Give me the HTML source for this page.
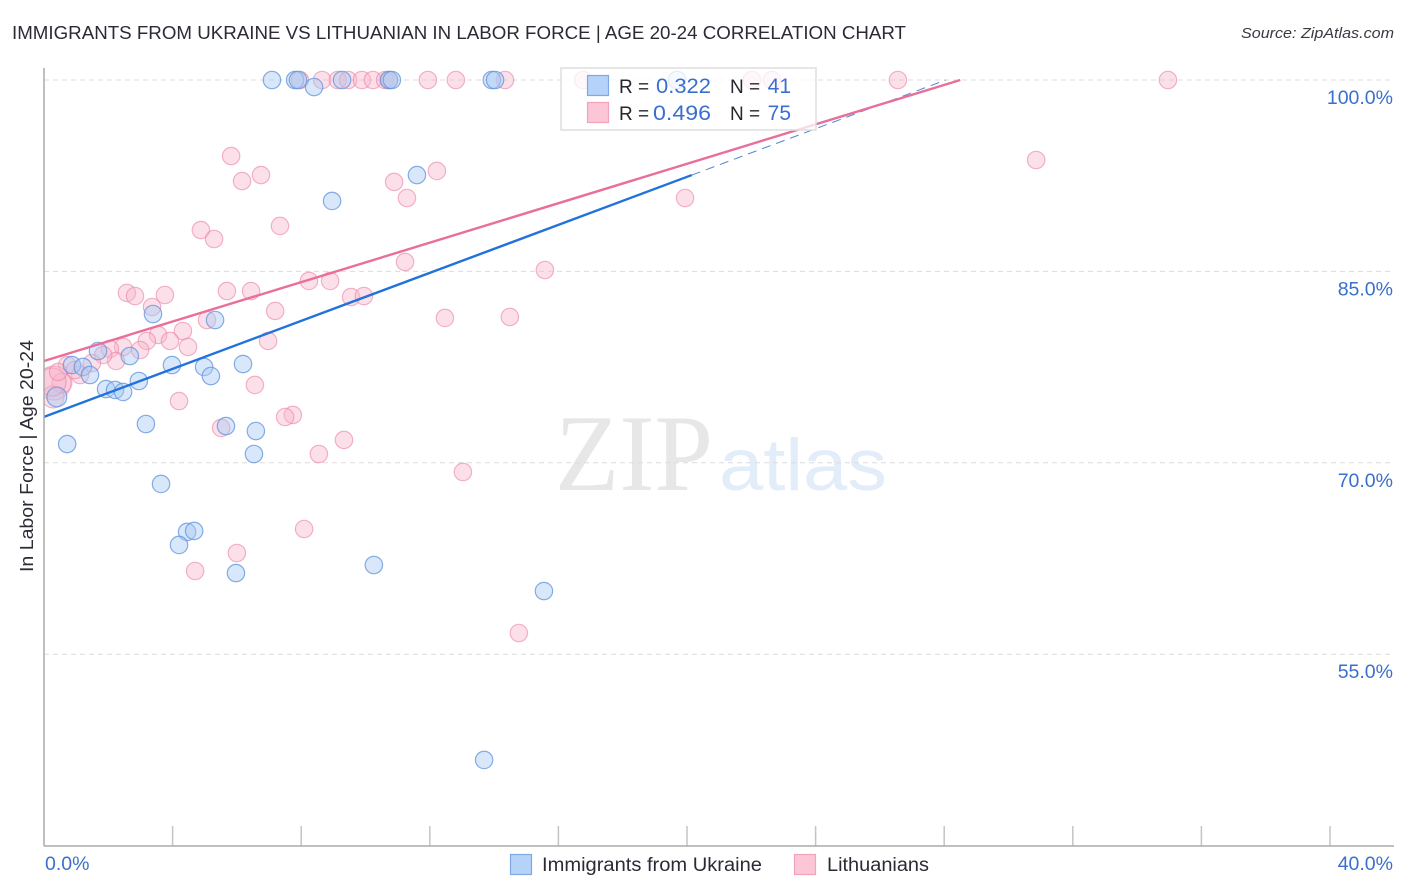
<!DOCTYPE html>
<html lang="en">
<head>
<meta charset="utf-8">
<title>Immigrants from Ukraine vs Lithuanian in Labor Force | Age 20-24 Correlation Chart</title>
<style>
html,body{margin:0;padding:0;background:#fff;width:1406px;height:892px;overflow:hidden}
svg{display:block;font-family:"Liberation Sans",sans-serif}
</style>
</head>
<body>
<svg id="chart" width="1406" height="892" viewBox="0 0 1406 892" xmlns="http://www.w3.org/2000/svg">
  <defs>
    <clipPath id="plot-clip"><rect x="44" y="60" width="1350" height="786"/></clipPath>
  </defs>
  <text x="12" y="39" font-size="18.5" fill="#2b2b36" textLength="894" lengthAdjust="spacingAndGlyphs">IMMIGRANTS FROM UKRAINE VS LITHUANIAN IN LABOR FORCE | AGE 20-24 CORRELATION CHART</text>
  <text x="1394" y="38" font-size="15" font-style="italic" fill="#3a3a44" text-anchor="end" textLength="153" lengthAdjust="spacingAndGlyphs">Source: ZipAtlas.com</text>
  <g>
    <text x="555" y="490" font-family="'Liberation Serif',serif" font-size="109" fill="#e7e7e7" textLength="158" lengthAdjust="spacingAndGlyphs">ZIP</text>
    <text x="719" y="490" font-size="73" fill="#e3ecf9" textLength="168" lengthAdjust="spacingAndGlyphs">atlas</text>
  </g>
  <g id="grid"></g>
  <g id="xticks"></g>
  <g id="ylabels"></g>
  <g id="xlabels"></g>
  <g id="points-lithuanian" clip-path="url(#plot-clip)"></g>
  <g id="points-ukraine" clip-path="url(#plot-clip)"></g>
  <g id="trends"></g>
  <line x1="44" y1="68" x2="44" y2="846" stroke="#aaaaaa" stroke-width="1.5"/>
  <line x1="44" y1="846" x2="1394" y2="846" stroke="#aaaaaa" stroke-width="1.5"/>
  <text transform="translate(33,456) rotate(-90)" font-size="18.5" fill="#2b2b36" text-anchor="middle" textLength="232" lengthAdjust="spacingAndGlyphs">In Labor Force | Age 20-24</text>

  <g>
    <rect x="561" y="68" width="255" height="62" fill="#ffffff" fill-opacity="0.76" stroke="#dddddd" stroke-width="1.5"/>
    <rect x="587.5" y="75.5" width="21" height="20" fill="#b5d2f8" stroke="#7fa9e4" stroke-width="1.2"/>
    <rect x="587.5" y="102.5" width="21" height="20" fill="#fcc6d6" stroke="#f0a3bb" stroke-width="1.2"/>
    <text x="619" y="93" font-size="19" fill="#26262e">R =</text>
    <text x="711" y="93" font-size="21" fill="#3b6fce" text-anchor="end" textLength="55" lengthAdjust="spacingAndGlyphs">0.322</text>
    <text x="730" y="93" font-size="19" fill="#26262e">N =</text>
    <text x="791" y="93" font-size="21" fill="#3b6fce" text-anchor="end">41</text>
    <text x="619" y="120" font-size="19" fill="#26262e">R =</text>
    <text x="711" y="120" font-size="21" fill="#3b6fce" text-anchor="end" textLength="58" lengthAdjust="spacingAndGlyphs">0.496</text>
    <text x="730" y="120" font-size="19" fill="#26262e">N =</text>
    <text x="791" y="120" font-size="21" fill="#3b6fce" text-anchor="end">75</text>
  </g>

  <g>
    <rect x="510.5" y="854.5" width="21" height="20" fill="#b5d2f8" stroke="#7fa9e4" stroke-width="1.2"/>
    <text x="542" y="871" font-size="19" fill="#2b2b36" textLength="220" lengthAdjust="spacingAndGlyphs">Immigrants from Ukraine</text>
    <rect x="794.5" y="854.5" width="21" height="20" fill="#fcc6d6" stroke="#f0a3bb" stroke-width="1.2"/>
    <text x="827" y="871" font-size="19" fill="#2b2b36" textLength="102" lengthAdjust="spacingAndGlyphs">Lithuanians</text>
  </g>
</svg>
<script>
const yTickValues = [100, 85, 70, 55];
const yTickLabels = ["100.0%", "85.0%", "70.0%", "55.0%"];
const xTickValues = [0, 4, 8, 12, 16, 20, 24, 28, 32, 36, 40];
const xEndLabels = ["0.0%", "40.0%"];

const ukraineX = [7.09,7.81,7.90,8.40,9.27,10.73,10.82,13.93,14.03,19.69,8.96,11.60,3.39,5.32,1.68,2.67,0.87,1.21,1.43,3.98,4.98,5.19,6.19,2.95,1.93,2.21,2.46,0.40,3.17,5.66,6.59,0.72,6.53,3.64,4.45,4.67,4.20,5.97,10.26,15.55,13.69];
const ukraineY = [100,100,100,99.45,100,100,100,100,100,100,90.52,92.55,81.66,81.19,78.76,78.37,77.66,77.51,76.88,77.66,77.51,76.80,77.74,76.41,75.78,75.71,75.55,75.16,73.04,72.88,72.49,71.47,70.69,68.34,64.58,64.66,63.56,61.36,61.99,59.95,46.71];
const ukraineWeight = {27: 1.3};

const lithuanianX = [7.96,8.65,9.14,9.46,9.89,10.23,10.61,10.73,11.94,12.81,14.34,16.77,22.02,22.64,26.56,34.96,5.82,6.16,6.75,10.89,11.29,12.22,4.88,5.29,7.34,11.23,8.24,8.90,5.69,6.44,9.55,9.95,7.19,12.47,5.07,4.32,2.58,2.83,3.76,3.36,6.97,3.55,3.20,3.92,4.48,2.99,2.46,2.05,2.24,1.84,1.49,1.12,0.72,0.31,0.56,0.28,4.20,6.56,7.74,7.50,5.51,9.33,8.55,13.03,8.09,6.00,4.70,14.77,19.94,30.86,15.58,14.49,0.96,0.25,0.44];
const lithuanianY = [100,100,100,100,100,100,100,100,100,100,100,100,100,100,100,100,94.04,92.08,92.55,92.01,90.75,92.87,88.24,87.54,88.56,85.74,84.25,84.25,83.46,83.46,82.99,83.07,81.90,81.35,81.19,80.33,83.31,83.07,83.15,82.21,79.55,80.02,79.55,79.55,79.08,78.84,79.08,78.92,77.98,78.45,77.82,76.88,77.66,76.25,76.25,75.16,74.84,76.10,73.75,73.59,72.73,71.79,70.69,69.28,64.81,62.93,61.52,56.66,90.75,93.73,85.11,81.43,77.27,76.33,77.12];
const lithuanianWeight = {53: 3.8, 54: 1.3, 55: 1.6, 73: 2.6};

const ukraineTrendSolidX = [0, 20.15];
const ukraineTrendSolidY = [73.6, 92.55];
const ukraineTrendDashX = [20.15, 28.05];
const ukraineTrendDashY = [92.55, 100];
const lithuanianTrendX = [0, 28.5];
const lithuanianTrendY = [77.98, 100];

const NS = "http://www.w3.org/2000/svg";
const xPos = v => 44 + v * 32.15;
const yPos = v => 80 + (100 - v) * 12.76;
const BASE_R = 8.7;

function make(tag, parentId, attrs) {
  const el = document.createElementNS(NS, tag);
  for (const k in attrs) el.setAttribute(k, attrs[k]);
  document.getElementById(parentId).appendChild(el);
  return el;
}

yTickValues.forEach(function (v, i) {
  const gridLine = make("line", "grid", {x1: 44, x2: 1394, y1: yPos(v), y2: yPos(v), stroke: "#dcdcdc", "stroke-width": 1, "stroke-dasharray": "5 4"});
  
  
  const label = make("text", "ylabels", {x: 1393, y: yPos(v) + 24, "font-size": 19.5, fill: "#3b6fce", "text-anchor": "end"});
  
  
  label.textContent = yTickLabels[i];
});

xTickValues.slice(1).forEach(function (v) {
  const tick = make("line", "xticks", {x1: xPos(v), x2: xPos(v), y1: 826, y2: 846, stroke: "#c4c4c4", "stroke-width": 1.5});
  
  
});

const xLabelLeft = make("text", "xlabels", {x: 45, y: 870, "font-size": 19.5, fill: "#3b6fce"});


xLabelLeft.textContent = xEndLabels[0];
const xLabelRight = make("text", "xlabels", {x: 1393, y: 870, "font-size": 19.5, fill: "#3b6fce", "text-anchor": "end"});


xLabelRight.textContent = xEndLabels[1];

ukraineX.forEach(function (v, i) {
  const w = ukraineWeight[i] || 1;
  const dot = make("circle", "points-ukraine", {cx: xPos(v), cy: yPos(ukraineY[i]), r: BASE_R * Math.sqrt(w), fill: "#a9caf5", "fill-opacity": 0.45, stroke: "#5f93dc", "stroke-opacity": 0.75, "stroke-width": 1.2});
  
  
});

lithuanianX.forEach(function (v, i) {
  const w = lithuanianWeight[i] || 1;
  const dot = make("circle", "points-lithuanian", {cx: xPos(v), cy: yPos(lithuanianY[i]), r: BASE_R * Math.sqrt(w), fill: "#f7b4ca", "fill-opacity": 0.42, stroke: "#ec86a8", "stroke-opacity": 0.62, "stroke-width": 1.2});
  
  
});

const ukraineSolid = make("line", "trends", {x1: xPos(ukraineTrendSolidX[0]), y1: yPos(ukraineTrendSolidY[0]), x2: xPos(ukraineTrendSolidX[1]), y2: yPos(ukraineTrendSolidY[1]), stroke: "#2272dc", "stroke-width": 2.4});


const ukraineDash = make("line", "trends", {x1: xPos(ukraineTrendDashX[0]), y1: yPos(ukraineTrendDashY[0]), x2: xPos(ukraineTrendDashX[1]), y2: yPos(ukraineTrendDashY[1]), stroke: "#4f86d8", "stroke-width": 1, "stroke-dasharray": "9 6"});


const lithuanianLine = make("line", "trends", {x1: xPos(lithuanianTrendX[0]), y1: yPos(lithuanianTrendY[0]), x2: xPos(lithuanianTrendX[1]), y2: yPos(lithuanianTrendY[1]), stroke: "#e96f9a", "stroke-width": 2.4});


</script>
</body>
</html>
